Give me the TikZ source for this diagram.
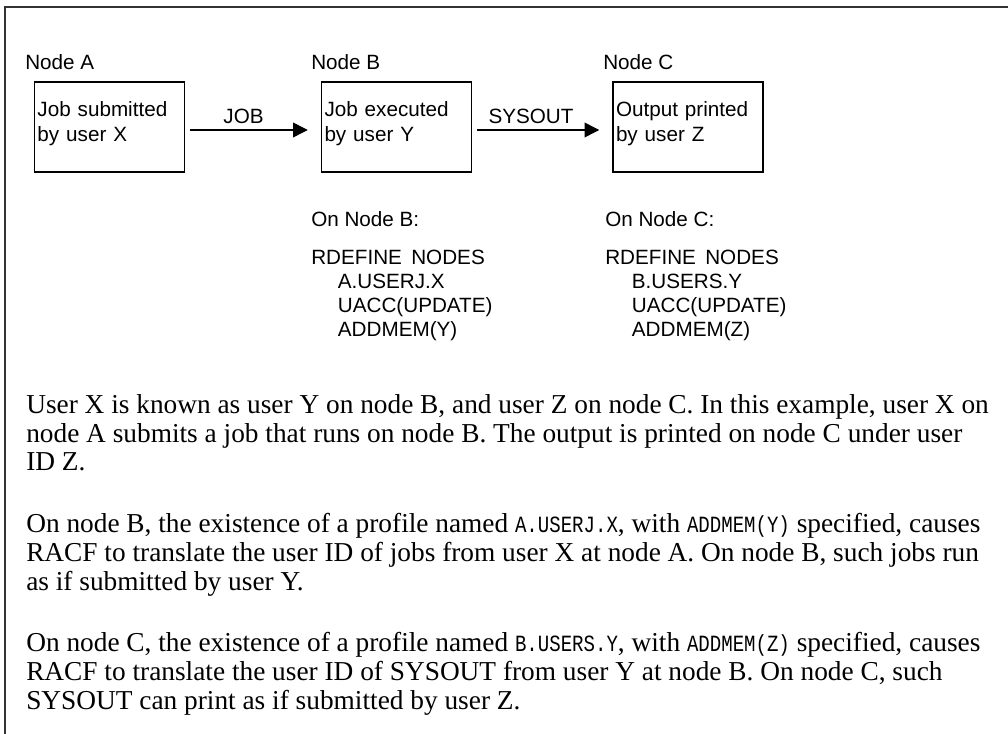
\documentclass[tikz,border=0pt]{standalone}
\usepackage{fontspec}
\setmainfont{Liberation Serif}
\setsansfont{Liberation Sans}
\newfontfamily\codefont{Liberation Mono}[Scale=0.85,FakeStretch=0.82]
\usetikzlibrary{arrows.meta}
\newcommand{\cmd}[1]{{\codefont #1}}

\begin{document}
\begin{tikzpicture}[x=0.75pt,y=-0.75pt,
	nodetitle/.style={anchor=base west,inner sep=0pt,align=left,font=\sffamily\fontsize{15.5pt}{18pt}\selectfont},
	box/.style={draw,line width=1.1pt,text width=108pt,inner xsep=2.25pt,minimum height=67.5pt,align=left,font=\sffamily\fontsize{15.5pt}{18.75pt}\selectfont},
	flow/.style={-{Triangle[length=11pt,width=11pt]},line width=1.1pt,shorten <=3.75pt,shorten >=9.75pt},
	para/.style={anchor=base west,inner sep=0pt,align=left,font=\fontsize{20.5pt}{21.4pt}\selectfont}]
	
	\useasboundingbox (0,0) rectangle (1008,734);
	
	% frame (top and left rules)
	\draw[line width=1.1pt,black!80] (1008,7) -- (5,7) -- (5,734);
	
	%----------------------------
	% Top: the three nodes
	%----------------------------
	\node[nodetitle] (titleA) at (25,70) {Node A};
	\node[nodetitle] (titleB) at (311,70) {Node B};
	\node[nodetitle] (titleC) at (603,70) {Node C};
	
	% boxes (extra depth in last line lifts the text a little)
	\node[box] (boxA) at (109.5,127) {Job submitted\\by user X\rule[-7.5pt]{0pt}{0pt}};
	\node[box] (boxB) at (396.5,127) {Job executed\\by user Y\rule[-7.5pt]{0pt}{0pt}};
	\node[box] (boxC) at (688,127) {Output printed\\by user Z\rule[-7.5pt]{0pt}{0pt}};
	
	% JOB and SYSOUT
	\draw[flow] ([yshift=-2.25pt]boxA.east) -- ([yshift=-2.25pt]boxB.west)
	node[pos=0.43,anchor=base,yshift=4.5pt,font=\sffamily\fontsize{15.5pt}{18pt}\selectfont] (job) {JOB};
	\draw[flow] ([yshift=-2.25pt]boxB.east) -- ([yshift=-2.25pt]boxC.west)
	node[pos=0.42,anchor=base,yshift=4.5pt,font=\sffamily\fontsize{15.5pt}{18pt}\selectfont] (sysout) {SYSOUT};
	
	%----------------------------
	% Middle: profiles on B and C
	% (base anchor = last line)
	%----------------------------
	\node[nodetitle] (onB) at (311,337) {On Node B:\\[10.5pt]
		RDEFINE\hspace{7pt}NODES\\
		\hspace{20pt}A.USERJ.X\\
		\hspace{20pt}UACC(UPDATE)\\
		\hspace{20pt}ADDMEM(Y)};
	\node[nodetitle] (onC) at (605,337) {On Node C:\\[10.5pt]
		RDEFINE\hspace{7pt}NODES\\
		\hspace{20pt}B.USERS.Y\\
		\hspace{20pt}UACC(UPDATE)\\
		\hspace{20pt}ADDMEM(Z)};
	
	%----------------------------
	% Bottom: explanation
	%----------------------------
	\node[para] (text1) at (26,471) {User X is known as user Y on node B, and user Z on node C. In this example, user X on\\
		node A submits a job that runs on node B. The output is printed on node C under user\\
		ID Z.};
	\node[para] (text2) at (26,590) {On node B, the existence of a profile named \cmd{A.USERJ.X}, with \cmd{ADDMEM(Y)} specified, causes\\
		RACF to translate the user ID of jobs from user X at node A. On node B, such jobs run\\
		as if submitted by user Y.};
	\node[para] (text3) at (26,709) {On node C, the existence of a profile named \cmd{B.USERS.Y}, with \cmd{ADDMEM(Z)} specified, causes\\
		RACF to translate the user ID of SYSOUT from user Y at node B. On node C, such\\
		SYSOUT can print as if submitted by user Z.};
	
\end{tikzpicture}
\end{document}
